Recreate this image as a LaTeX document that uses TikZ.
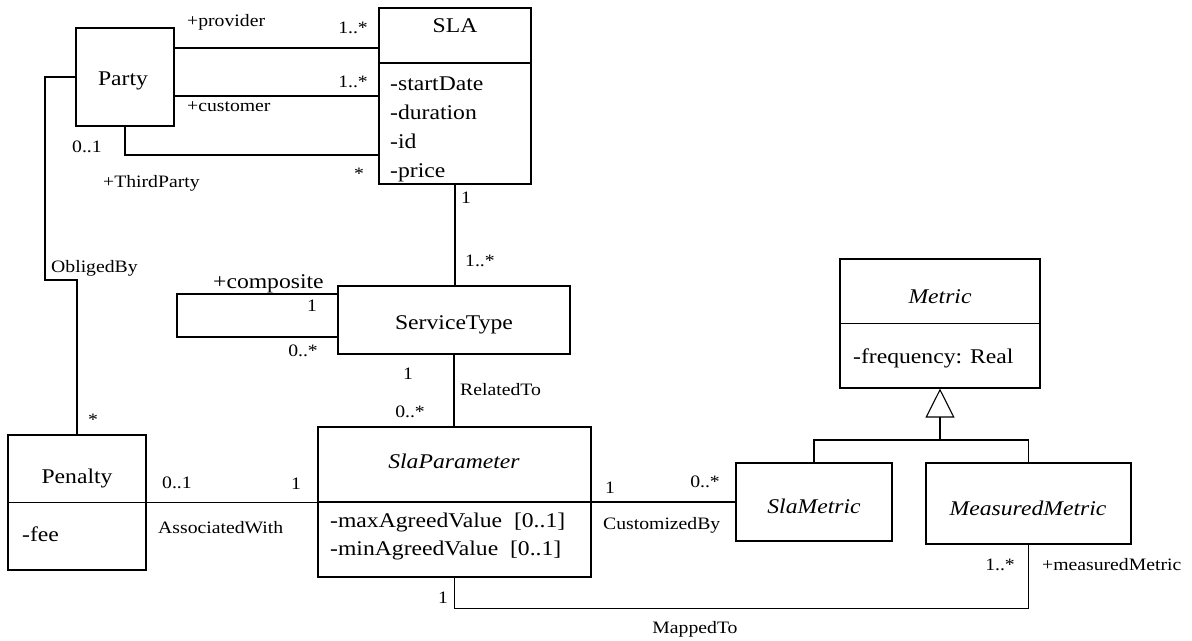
\documentclass[tikz,border=0pt]{standalone}
\usepackage{fontspec}
\setmainfont{Liberation Serif}[FakeStretch=1.13]
\usetikzlibrary{arrows.meta, positioning}

\newcommand\clsfont{\fontsize{21}{29}\selectfont}
\newcommand\lblfont{\fontsize{17.5}{20}\selectfont}

\begin{document}
\begin{tikzpicture}[x=1bp, y=-1bp, % one unit = one pixel, y downwards
		classbox/.style={rectangle, draw=black, line width=1.1bp, inner sep=0pt},
		title/.style={font=\clsfont, inner sep=0pt, anchor=base},
		attr/.style={font=\clsfont, inner sep=0pt, anchor=base west},
		mult/.style={font=\lblfont, inner sep=0pt},
		assoc/.style={line width=1.1bp},
		gen/.style={line width=1.1bp, -{Triangle[open, length=29bp, width=29bp]}}
		]
		\useasboundingbox (0,0) rectangle (1192,641);
		
		% Party and SLA
		\node[classbox, minimum width=98bp, minimum height=98bp] (party) at (125,77) {};
		\node[title] (party-name) at (123,86) {Party};
		\node[classbox, minimum width=152bp, minimum height=176bp] (sla) at (455,96) {};
		\node[title] (sla-name) at (455,33) {SLA};
		\draw[assoc] (sla.west |- 0,63) -- (sla.east |- 0,63);
		\node[attr] (sla-a1) at (390,91) {-startDate};
		\node[attr] (sla-a2) at (390,120) {-duration};
		\node[attr] (sla-a3) at (390,149) {-id};
		\node[attr] (sla-a4) at (390,178) {-price};
		
		% ServiceType
		\node[classbox, minimum width=232bp, minimum height=68bp] (servicetype) at (454,320) {};
		\node[title] (servicetype-name) at (454,330) {ServiceType};
		
		% Penalty
		\node[classbox, minimum width=138bp, minimum height=135bp] (penalty) at (77,502.5) {};
		\node[title] (penalty-name) at (77,483) {Penalty};
		\draw[assoc] (penalty.west) -- (penalty.east);
		\node[attr] (penalty-a1) at (22,541) {-fee};
		
		% SlaParameter
		\node[classbox, minimum width=273bp, minimum height=150bp] (slaparam) at (454.5,502) {};
		\node[title] (slaparam-name) at (454,468) {\itshape SlaParameter};
		\draw[assoc] (slaparam.west) -- (slaparam.east);
		\node[attr] (slaparam-a1) at (330,527) {-maxAgreedValue\ \ [0..1]};
		\node[attr] (slaparam-a2) at (330,555) {-minAgreedValue\ \ [0..1]};
		
		% Metric hierarchy
		\node[classbox, minimum width=200bp, minimum height=129bp] (metric) at (940,323.5) {};
		\node[title] (metric-name) at (940,304) {\itshape Metric};
		\draw[assoc] (metric.west) -- (metric.east);
		\node[attr] (metric-a1) at (853,363) {-frequency: Real};
		\node[classbox, minimum width=156bp, minimum height=78bp] (slametric) at (814,502) {};
		\node[title] (slametric-name) at (814,513) {\itshape SlaMetric};
		\node[classbox, minimum width=205bp, minimum height=81bp] (measured) at (1028.5,503.5) {};
		\node[title] (measured-name) at (1028,515) {\itshape MeasuredMetric};
		
		% associations
		\draw[assoc] (party.east |- 0,48) -- (sla.west |- 0,48);
		\draw[assoc] (party.east |- 0,96) -- (sla.west |- 0,96);
		\draw[assoc] (party.south) |- (sla.west |- 0,155);
		\draw[assoc] (party.west) -| (45,280) -| (penalty.north);
		\draw[assoc] (sla.south) -- (sla.south |- servicetype.north);
		\draw[assoc] (servicetype.west |- 0,294) -| (177,337) -- (servicetype.west |- 0,337);
		\draw[assoc] (servicetype.south) -- (servicetype.south |- slaparam.north);
		\draw[assoc] (penalty.east) -- (penalty.east -| slaparam.west);
		\draw[assoc] (slaparam.east) -- (slaparam.east -| slametric.west);
		\draw[assoc] (slaparam.south) -- ++(0,31) -| (measured.south);
		
		% generalization
		\coordinate (genjoin) at (940,440);
		\draw[assoc] (slametric.north) |- (genjoin) -| (measured.north);
		\draw[gen] (genjoin) -- (metric.south);
		
		% role names and multiplicities
		\node[mult, anchor=base west] (l-provider) at (187,27) {+provider};
		\node[mult, anchor=base east] (m-provider) at (368,34) {1..*};
		\node[mult, anchor=base east] (m-customer) at (368,88) {1..*};
		\node[mult, anchor=base west] (l-customer) at (187,112) {+customer};
		\node[mult, anchor=base west] (m-third) at (72,153) {0..1};
		\node[mult, anchor=base west] (l-third) at (103,188) {+ThirdParty};
		\node[mult, anchor=base] (m-thirdsla) at (359,180) {*};
		\node[mult, anchor=base west] (m-sla) at (461,204) {1};
		\node[mult, anchor=base west] (m-st) at (465,267) {1..*};
		\node[mult, anchor=base west] (l-obliged) at (51,273) {ObligedBy};
		\node[mult, anchor=base] (m-penalty) at (93,425) {*};
		\node[title, anchor=base west] (l-composite) at (213,289) {+composite};
		\node[mult, anchor=base] (m-comp1) at (312,312) {1};
		\node[mult, anchor=base east] (m-comp2) at (318,357) {0..*};
		\node[mult, anchor=base] (m-st1) at (408,379) {1};
		\node[mult, anchor=base west] (l-related) at (460,395) {RelatedTo};
		\node[mult, anchor=base east] (m-sp) at (425,417) {0..*};
		\node[mult, anchor=base west] (m-assoc01) at (162,488) {0..1};
		\node[mult, anchor=base] (m-assoc1) at (296,489) {1};
		\node[mult, anchor=base west] (l-assoc) at (158,533) {AssociatedWith};
		\node[mult, anchor=base west] (m-custby1) at (605,493) {1};
		\node[mult, anchor=base east] (m-custby0) at (720,487) {0..*};
		\node[mult, anchor=base west] (l-custby) at (603,529) {CustomizedBy};
		\node[mult, anchor=base] (m-map1) at (443,603) {1};
		\node[mult, anchor=base] (l-mapped) at (695,633) {MappedTo};
		\node[mult, anchor=base east] (m-meas) at (1015,570) {1..*};
		\node[mult, anchor=base west] (l-meas) at (1042,570) {+measuredMetric};
		
	\end{tikzpicture}
\end{document}
